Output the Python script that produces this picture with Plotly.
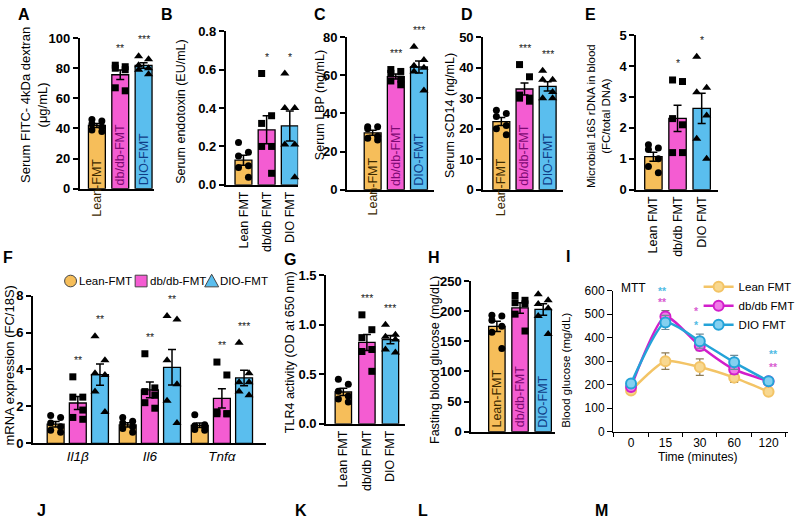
import numpy as np
import plotly.graph_objects as go

W, H = 800, 530
FONT = "Liberation Sans"

# ---------------- data ----------------
groups_dash = ["Lean-FMT", "db/db-FMT", "DIO-FMT"]
groups_space = ["Lean FMT", "db/db FMT", "DIO FMT"]

A_lean = [46, 45, 43, 41, 39, 38]
A_db = [82, 81, 80, 79, 67, 65]
A_dio = [88, 86, 82, 80, 79, 76]
A_stars = ["", "**", "***"]

B_lean = [0.22, 0.17, 0.15, 0.10, 0.09, 0.04]
B_db = [0.58, 0.36, 0.32, 0.20, 0.20, 0.06]
B_dio = [0.58, 0.40, 0.40, 0.21, 0.21, 0.04]
B_stars = ["", "*", "*"]

C_lean = [33, 33, 32, 28, 27, 26]
C_db = [63, 62, 61, 58, 57, 55]
C_dio = [75, 68, 65, 64, 62, 52]
C_stars = ["", "***", "***"]

D_lean = [26, 25, 24, 21, 20, 18]
D_db = [41, 37, 31, 30, 30, 29]
D_dio = [39, 36, 36, 32, 30, 30]
D_stars = ["", "***", "***"]

E_lean = [1.45, 1.35, 1.30, 1.00, 0.75, 0.55]
E_db = [3.55, 3.50, 2.30, 2.10, 1.20, 1.20]
E_dio = [4.30, 3.30, 3.15, 2.40, 1.65, 1.00]
E_stars = ["", "*", "*"]

F_genes = ["Il1β", "Il6", "Tnfα"]
F_lean = [[1.5, 1.4, 1.1, 0.9, 0.7, 0.6],
          [1.4, 1.2, 1.1, 0.9, 0.8, 0.6],
          [1.55, 1.0, 0.95, 0.9, 0.75, 0.7]]
F_db = [[3.6, 2.5, 2.5, 1.8, 1.4, 1.3],
        [4.85, 3.0, 2.8, 2.6, 2.2, 1.9],
        [4.4, 3.7, 1.7, 1.6, 1.6, 1.6]]
F_dio = [[5.8, 4.5, 3.8, 3.7, 2.8, 1.7],
         [6.9, 6.7, 4.5, 3.2, 2.3, 1.1],
         [5.45, 3.8, 3.3, 3.3, 2.8, 2.6]]
F_stars_db = ["**", "**", "**"]
F_stars_dio = ["**", "**", "***"]

G_lean = [0.45, 0.40, 0.33, 0.28, 0.25, 0.22]
G_db = [1.10, 0.95, 0.87, 0.75, 0.73, 0.53]
G_dio = [1.00, 0.90, 0.88, 0.85, 0.75, 0.72]
G_stars = ["", "***", "***"]

H_lean = [193, 192, 185, 175, 165, 138]
H_db = [226, 218, 214, 212, 195, 167]
H_dio = [228, 218, 212, 205, 192, 162]
H_stars = ["", "", ""]

I_times = ["0", "15", "30", "60", "120"]
I_names = ["Lean FMT", "db/db FMT", "DIO FMT"]
I_lean = [175, 300, 275, 230, 170]
I_db = [190, 490, 365, 265, 215]
I_dio = [205, 465, 385, 295, 215]
I_lean_err = [10, 35, 35, 20, 10]
I_db_err = [15, 25, 20, 20, 10]
I_dio_err = [15, 30, 30, 30, 10]
I_star_time = ["15", "15", "30", "30", "120", "120"]
I_star_val = [600, 552, 512, 455, 330, 274]
I_star_text = ["**", "**", "*", "*", "**", "**"]
I_star_series = [2, 1, 1, 2, 2, 1]

# ---------------- style ----------------
FILL = ["#F6BE5A", "#F45CD2", "#5ABEEE"]
LABEL_COL = ["#3d2a00", "#7d0a73", "#103c86"]
SYMBOLS = ["circle", "square", "triangle-up"]
PT_SIZE = [7, 7, 8]
LINE_COL = ["#F3C466", "#D21ECB", "#24A3D8"]
MK_FILL_I = ["#F8D890", "#F07BE8", "#84D0F0"]
STAR_COL_I = ["#E8B040", "#D85ED0", "#52BCE4"]
JIT_PX = [-5, 5, -5, 5, -5, 5]

fig = go.Figure()
annotations = []
shapes = []


def px2x(p):
    return p / W


def px2y(p):
    return 1 - p / H


def axname(k):
    return ("x" if k == 1 else f"x{k}"), ("y" if k == 1 else f"y{k}")


def sem(v):
    v = np.asarray(v, float)
    return float(v.std(ddof=1) / np.sqrt(len(v)))


def set_axes(k, fr, xcat=None):
    xa = dict(domain=[px2x(fr["ax"]), px2x(fr["end"])],
              anchor=axname(k)[1], showline=True, linecolor="black", linewidth=1.5,
              showgrid=False, zeroline=False, ticks="", showticklabels=False,
              fixedrange=True)
    if xcat is None:
        xa["range"] = [(fr["ax"] - fr["c0"]) / fr["sp"], (fr["end"] - fr["c0"]) / fr["sp"]]
    ya = dict(domain=[px2y(fr["y0"]), px2y(fr["ytop"])], range=[0, fr["ymax"]],
              anchor=axname(k)[0], showline=True, linecolor="black", linewidth=1.5,
              showgrid=False, zeroline=False, ticks="outside", ticklen=5, tickwidth=1.5,
              tickcolor="black", tick0=0, dtick=fr["dtick"], fixedrange=True,
              tickfont=dict(family=FONT, size=13, color="black", weight="bold"))
    if "fmt" in fr:
        ya["tickformat"] = fr["fmt"]
    key = "" if k == 1 else str(k)
    fig.layout["xaxis" + key] = xa
    fig.layout["yaxis" + key] = ya


def star(text, x, y, xr, yr):
    annotations.append(dict(text=text, x=x, y=y, xref=xr, yref=yr,
                            showarrow=False, yanchor="middle", yshift=17,
                            font=dict(family=FONT, size=10.5, color="#222")))


def bar_panel(k, fr, series, stars, ticklabels=False, inner=None):
    xr, yr = axname(k)
    set_axes(k, fr)
    means = [float(np.mean(s)) for s in series]
    errs = [sem(s) for s in series]
    fig.add_trace(go.Bar(x=[0, 1, 2], y=means, width=fr["bw"] / fr["sp"],
                         marker=dict(color=FILL, line=dict(color="black", width=1.3)),
                         error_y=dict(type="data", array=errs, color="black",
                                      thickness=1.5, width=4),
                         xaxis=xr, yaxis=yr, showlegend=False, hoverinfo="skip"))
    for i, s in enumerate(series):
        xs = [i + JIT_PX[j % len(JIT_PX)] / fr["sp"] for j in range(len(s))]
        fig.add_trace(go.Scatter(x=xs, y=s, mode="markers",
                                 marker=dict(symbol=SYMBOLS[i], size=PT_SIZE[i], color="black"),
                                 xaxis=xr, yaxis=yr, showlegend=False, hoverinfo="skip",
                                 cliponaxis=False))
        if stars[i]:
            star(stars[i], i, max(s), xr, yr)
    if ticklabels:
        fig.layout["xaxis" + ("" if k == 1 else str(k))].update(
            showticklabels=True, tickvals=[0, 1, 2], ticktext=groups_space, tickangle=-90,
            tickfont=dict(family=FONT, size=12.5, color="black"))
    if inner:
        for i in range(3):
            xp = fr["c0"] + i * fr["sp"]
            annotations.append(dict(text=groups_dash[i], x=px2x(xp), y=px2y(inner[i]),
                                    xref="paper", yref="paper", textangle=-90,
                                    xanchor="center", yanchor="bottom", showarrow=False,
                                    font=dict(family=FONT, size=12.5, color=LABEL_COL[i])))


def ytitle(text, xp, yp, size=12.5):
    annotations.append(dict(text=text, x=px2x(xp), y=px2y(yp), xref="paper", yref="paper",
                            textangle=-90, showarrow=False, xanchor="center", yanchor="middle",
                            font=dict(family=FONT, size=size, color="black")))


def letter(text, xp, yp):
    annotations.append(dict(text=f"<b>{text}</b>", x=px2x(xp), y=px2y(yp), xref="paper",
                            yref="paper", showarrow=False, xanchor="center", yanchor="middle",
                            font=dict(family=FONT, size=16, color="black")))


# ---------------- top row ----------------
frA = dict(ax=80, end=155, y0=187, ytop=32, ymax=100, dtick=20, c0=97.5, sp=23.5, bw=17)
bar_panel(1, frA, [A_lean, A_db, A_dio], A_stars, inner=[218, 186, 186])
ytitle("Serum FITC- 4kDa dextran<br>(μg/mL)", 34, 101, 13)

frB = dict(ax=227, end=300, y0=183, ytop=25, ymax=0.8, dtick=0.2, c0=245, sp=23.3, bw=17, fmt=".1f")
bar_panel(2, frB, [B_lean, B_db, B_dio], B_stars, ticklabels=True)
ytitle("Serum endotoxin (EU/mL)", 182, 107, 12.5)

frC = dict(ax=349, end=437, y0=188, ytop=31, ymax=80, dtick=20, c0=375, sp=23.3, bw=17)
bar_panel(3, frC, [C_lean, C_db, C_dio], C_stars, inner=[217, 186, 186])
ytitle("Serum LBP (ng/mL)", 322, 101, 12.5)

frD = dict(ax=486, end=567, y0=188, ytop=31, ymax=50, dtick=10, c0=504.5, sp=23.3, bw=17)
bar_panel(4, frD, [D_lean, D_db, D_dio], D_stars, inner=[217, 186, 186])
ytitle("Serum sCD14 (ng/mL)", 453, 112, 12.5)

frE = dict(ax=640, end=723, y0=188, ytop=29, ymax=5, dtick=1, c0=657.5, sp=24.3, bw=17.5)
bar_panel(5, frE, [E_lean, E_db, E_dio], E_stars, ticklabels=True)
ytitle("Microbial 16S rDNA in blood<br>(FC/total DNA)", 603, 112, 11.5)

# ---------------- F ----------------
frF = dict(ax=33, end=268, y0=449, ytop=297, ymax=8, dtick=2, c0=78.3, sp=72.5)
set_axes(6, frF)
xr6, yr6 = axname(6)
fig.layout.xaxis6.update(showticklabels=True, tickvals=[0, 1, 2],
                         ticktext=[f"<i>{g}</i>" for g in F_genes],
                         tickfont=dict(family=FONT, size=13.5, color="black"))
F_series = [F_lean, F_db, F_dio]
off = 22.3 / frF["sp"]
bwF = 17 / frF["sp"]
for si in range(3):
    xs_bar = [g + (si - 1) * off for g in range(3)]
    means = [float(np.mean(v)) for v in F_series[si]]
    errs = [sem(v) for v in F_series[si]]
    fig.add_trace(go.Bar(x=xs_bar, y=means, width=bwF,
                         marker=dict(color=FILL[si], line=dict(color="black", width=1.3)),
                         error_y=dict(type="data", array=errs, color="black", thickness=1.5, width=4),
                         xaxis=xr6, yaxis=yr6, showlegend=False, hoverinfo="skip"))
for si in range(3):
    for g in range(3):
        vals = F_series[si][g]
        xc = g + (si - 1) * off
        xs = [xc + JIT_PX[j] / frF["sp"] for j in range(len(vals))]
        fig.add_trace(go.Scatter(x=xs, y=vals, mode="markers",
                                 marker=dict(symbol=SYMBOLS[si], size=PT_SIZE[si], color="black"),
                                 xaxis=xr6, yaxis=yr6, showlegend=False, hoverinfo="skip",
                                 cliponaxis=False))
        st = "" if si == 0 else (F_stars_db[g] if si == 1 else F_stars_dio[g])
        if st:
            star(st, xc, max(vals), xr6, yr6)

# F legend (layout decoration: key glyphs + labels)
LEG_F_KEYS = [71, 142, 213]   # key centre, px
LEG_F_Y = 282
for si, kx in enumerate(LEG_F_KEYS):
    r = 6
    if si == 0:
        shapes.append(dict(type="circle", xref="paper", yref="paper",
                           x0=px2x(kx - r), x1=px2x(kx + r), y0=px2y(LEG_F_Y + r), y1=px2y(LEG_F_Y - r),
                           fillcolor=FILL[si], line=dict(color="#444", width=1)))
    elif si == 1:
        shapes.append(dict(type="rect", xref="paper", yref="paper",
                           x0=px2x(kx - r), x1=px2x(kx + r), y0=px2y(LEG_F_Y + r), y1=px2y(LEG_F_Y - r),
                           fillcolor=FILL[si], line=dict(color="#444", width=1)))
    else:
        path = (f"M {px2x(kx - 7)},{px2y(LEG_F_Y + 6)} L {px2x(kx + 7)},{px2y(LEG_F_Y + 6)} "
                f"L {px2x(kx)},{px2y(LEG_F_Y - 7)} Z")
        shapes.append(dict(type="path", xref="paper", yref="paper", path=path,
                           fillcolor=FILL[si], line=dict(color="#444", width=1)))
    annotations.append(dict(text=groups_dash[si], x=px2x(kx + 6.5), y=px2y(LEG_F_Y),
                            xref="paper", yref="paper", xanchor="left", yanchor="middle",
                            showarrow=False, font=dict(family=FONT, size=11.5, color="black")))
ytitle("mRNA expression (FC/18S)", 10, 369, 13)

# ---------------- G ----------------
frG = dict(ax=328, end=408, y0=429, ytop=276, ymax=1.5, dtick=0.5, c0=345.5, sp=23.7, bw=16.5, fmt=".1f")
bar_panel(7, frG, [G_lean, G_db, G_dio], G_stars, ticklabels=True)
ytitle("TLR4 activity (OD at 650 nm)", 292, 355, 12.5)

# ---------------- H ----------------
frH = dict(ax=474, end=558, y0=437, ytop=282, ymax=250, dtick=50, c0=500, sp=23.3, bw=16.5)
bar_panel(8, frH, [H_lean, H_db, H_dio], H_stars, inner=[435, 435, 435])
ytitle("Fasting blood glucose (mg/dL)", 437, 363, 12.5)

# ---------------- I ----------------
frI = dict(ax=617, end=793, y0=437, ytop=292, ymax=600, dtick=100, c0=635, sp=34.6)
set_axes(9, frI, xcat=True)
xr9, yr9 = axname(9)
fig.layout.xaxis9.update(type="category", categoryorder="array", categoryarray=I_times,
                         range=[(617 - 635) / 34.6, (793 - 635) / 34.6],
                         showticklabels=True, ticks="outside", tickson="boundaries",
                         ticklen=4, tickwidth=1.2, tickcolor="black",
                         tickfont=dict(family=FONT, size=12, color="black"))
fig.layout.yaxis9.update(tickfont=dict(family=FONT, size=12, color="black", weight="normal"),
                         linewidth=1.2, tickwidth=1.2)
fig.layout.xaxis9.update(linewidth=1.2)
I_series = [I_lean, I_db, I_dio]
I_errs = [I_lean_err, I_db_err, I_dio_err]
ERR_COL_I = ["#8c7b55", "#777777", "#6d8a96"]
for si in range(3):
    fig.add_trace(go.Scatter(x=I_times, y=I_series[si], mode="lines+markers", name=I_names[si],
                             line=dict(color=LINE_COL[si], width=2.5, shape="spline", smoothing=0.6),
                             marker=dict(symbol="circle", size=10, color=MK_FILL_I[si],
                                         line=dict(color=LINE_COL[si], width=2)),
                             error_y=dict(type="data", array=I_errs[si], color=ERR_COL_I[si],
                                          thickness=1.2, width=4),
                             xaxis=xr9, yaxis=yr9, legend="legend", showlegend=True,
                             cliponaxis=False, hoverinfo="skip"))
for t, v, txt, s in zip(I_star_time, I_star_val, I_star_text, I_star_series):
    annotations.append(dict(text=f"<b>{txt}</b>", x=I_times.index(t), y=v, xref=xr9, yref=yr9,
                            showarrow=False, xshift=(5 if t == "120" else -3),
                            font=dict(family=FONT, size=10.5, color=STAR_COL_I[s])))
annotations.append(dict(text="MTT", x=px2x(623), y=px2y(289), xref="paper", yref="paper",
                        xanchor="left", yanchor="middle", showarrow=False,
                        font=dict(family=FONT, size=12, color="black")))
annotations.append(dict(text="Time (minutes)", x=px2x(702), y=px2y(463), xref="paper",
                        yref="paper", xanchor="center", yanchor="middle", showarrow=False,
                        font=dict(family=FONT, size=12, color="black")))
ytitle("Blood glucose (mg/dL)", 570, 374, 11.5)

# ---------------- letters ----------------
for t, xp, yp in [("A", 24, 8), ("B", 168, 8), ("C", 322, 8), ("D", 470, 8), ("E", 594, 8),
                  ("F", 8, 258), ("G", 292, 260), ("H", 437, 258), ("I", 572, 257),
                  ("J", 42, 518), ("K", 303, 518), ("L", 426, 518), ("M", 605, 518)]:
    letter(t, xp, yp)

fig.update_layout(
    width=W, height=H, margin=dict(l=0, r=0, t=0, b=0, pad=0),
    paper_bgcolor="white", plot_bgcolor="white", showlegend=True,
    font=dict(family=FONT, color="black"),
    annotations=annotations, shapes=shapes,
    legend=dict(x=px2x(703), y=px2y(273), xanchor="left", yanchor="top",
                font=dict(family=FONT, size=11.5, color="black"), bgcolor="rgba(0,0,0,0)",
                itemwidth=30, tracegroupgap=0),
)

fig.write_html("out.html", config={"displayModeBar": False},
               post_script="document.body.style.margin='0';")
